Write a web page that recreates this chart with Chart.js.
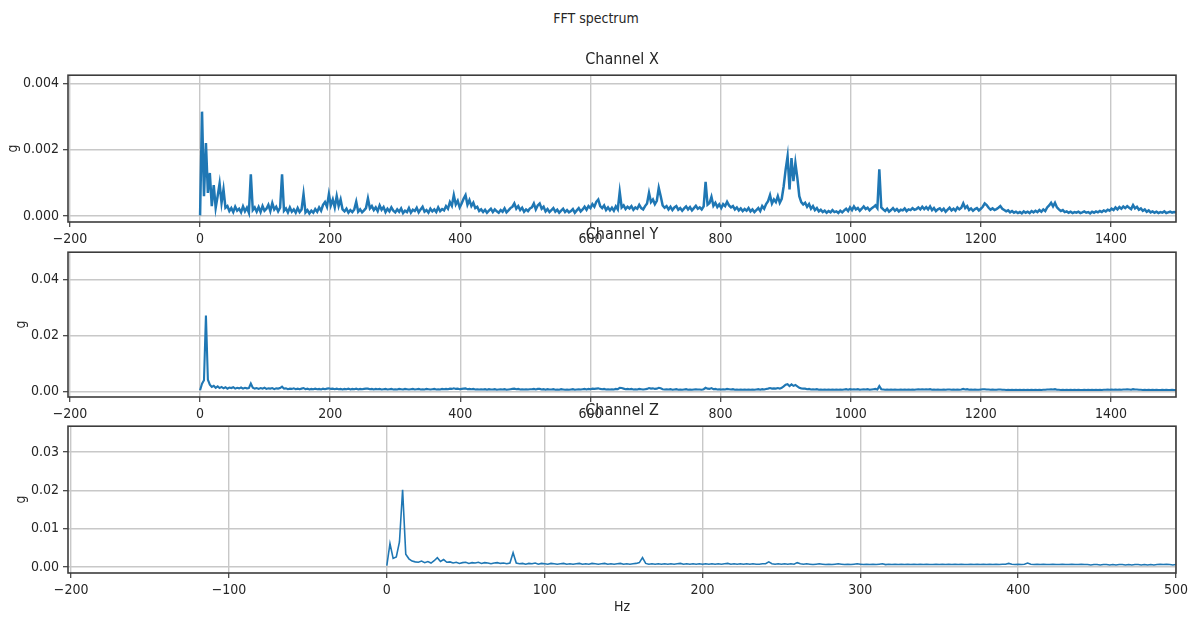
<!DOCTYPE html>
<html>
<head>
<meta charset="utf-8">
<script src="https://cdn.jsdelivr.net/npm/chart.js@4.4.1/dist/chart.umd.min.js"></script>
<style>
  html, body { margin: 0; padding: 0; background: #fff; }
  #wrap { position: relative; width: 1192px; height: 619px; overflow: hidden; }
  #wrap canvas { position: absolute; left: 0; }
  #suptitle {
    position: absolute; left: 0; top: 9px; width: 1192px; text-align: center;
    font: 14px/18px "DejaVu Sans Condensed", "DejaVu Sans", sans-serif; color: #262626;
  }
</style>
</head>
<body>
<div id="wrap">
  <div id="suptitle">FFT spectrum</div>
  <canvas id="chanX" width="1192" height="250" style="top:0"></canvas>
  <canvas id="chanY" width="1192" height="220" style="top:200px"></canvas>
  <canvas id="chanZ" width="1192" height="239" style="top:380px"></canvas>
</div>
<script>
// FFT bin width in Hz
const binXY = 3;
const binZ = 2;

// tick values
const hzTicksXY = [-200, 0, 200, 400, 600, 800, 1000, 1200, 1400];
const hzTicksZ = [-200, -100, 0, 100, 200, 300, 400, 500];
const gTicksX = [0, 0.002, 0.004];
const gTicksY = [0, 0.02, 0.04];
const gTicksZ = [0, 0.01, 0.02, 0.03];

// amplitude (g) per bin, channel X, 0..1500 Hz
const ampX = [
  0.00002, 0.00315, 0.0006, 0.0022, 0.0007, 0.0013, 0.0003, 0.00093, 0.00025, 0.0006,
  0.00098, 0.0004, 0.0008, 0.00025, 0.0003, 0.00015, 0.00024, 0.00012, 0.00028, 0.00016,
  0.00022, 0.00011, 0.00029, 0.00014, 0.00025, 0.0001, 0.00126, 0.00018, 0.00026, 0.00013,
  0.00027, 0.00012, 0.0003, 0.00016, 0.00022, 0.00034, 0.00015, 0.00039, 0.0002, 0.00028,
  0.00014, 0.00025, 0.00126, 0.00016, 0.00023, 0.00011, 0.00026, 0.00013, 0.0002, 0.0001,
  0.00024, 0.00012, 0.0002, 0.00066, 0.00011, 0.00018, 0.00008, 0.00016, 0.0001, 0.00021,
  0.00013, 0.00026, 0.00016, 0.00034, 0.00042, 0.00028, 0.00066, 0.00032, 0.0005, 0.00026,
  0.0006, 0.0003, 0.0005, 0.0002, 0.00014, 0.00022, 0.0001, 0.00018, 0.00012, 0.0002,
  0.00043, 0.00013, 0.0002, 0.00011, 0.00017, 0.00024, 0.00053, 0.00023, 0.0003, 0.00018,
  0.00026, 0.00015, 0.00032, 0.00019, 0.00027, 0.00012, 0.00022, 0.00014, 0.00026, 0.00016,
  0.00011, 0.0002, 0.00013, 0.00023, 0.00009, 0.00016, 0.00012, 0.00024, 0.0001, 0.00019,
  0.00015, 0.00025, 0.00011, 0.0002, 0.00028, 0.00013, 0.00018, 0.0001, 0.00022, 0.00014,
  0.0002, 0.00012, 0.00026, 0.00015, 0.00021, 0.00017, 0.0003, 0.00022, 0.00042, 0.00031,
  0.00063, 0.00035, 0.00046, 0.00026, 0.00038, 0.00052, 0.00063, 0.00034, 0.00048, 0.0003,
  0.0004, 0.00024, 0.00028, 0.00015, 0.0002, 0.00012, 0.00019, 0.0001, 0.00016, 0.00022,
  0.00012, 0.0002, 0.00014, 0.0001, 0.00018, 0.00013, 0.00023, 0.00011, 0.00017, 0.00024,
  0.00028, 0.00038, 0.00022, 0.0003, 0.00018, 0.00025, 0.00013, 0.0002, 0.00015, 0.00023,
  0.00026, 0.00038, 0.0002, 0.00032, 0.00038, 0.00022, 0.00028, 0.00014, 0.00021, 0.00012,
  0.00018, 0.00024, 0.00013, 0.00019, 0.0001, 0.00016, 0.00022, 0.00012, 0.00018, 0.00011,
  0.00015, 0.00021, 0.0001, 0.00017, 0.00024, 0.00014, 0.0002, 0.00028, 0.00019, 0.0003,
  0.00024, 0.00036, 0.00028, 0.00043, 0.0005, 0.0003, 0.00024, 0.00032, 0.00018, 0.00026,
  0.00017, 0.00025, 0.00016, 0.00029, 0.0002, 0.00073, 0.00026, 0.00032, 0.00021, 0.00028,
  0.00023, 0.0003, 0.00019, 0.00026, 0.00022, 0.00034, 0.00024, 0.0002, 0.0003, 0.00038,
  0.0007, 0.00042, 0.0005, 0.00036, 0.00046, 0.00085, 0.0006, 0.00032, 0.00025, 0.0003,
  0.0002, 0.00028, 0.00018, 0.00026, 0.0003, 0.00019, 0.00024, 0.00016, 0.00023, 0.00029,
  0.0002, 0.00027, 0.00017, 0.00024, 0.00031, 0.00022, 0.00026, 0.0002, 0.00029, 0.00103,
  0.00034, 0.00039, 0.00058, 0.00031, 0.0004, 0.00027, 0.00035, 0.00024, 0.00036, 0.0003,
  0.00043, 0.00032, 0.00026, 0.0003, 0.0002, 0.00026, 0.00017, 0.00023, 0.00015, 0.00021,
  0.00016, 0.00024, 0.00014, 0.0002, 0.00012, 0.00018, 0.00024, 0.00015, 0.0003, 0.00022,
  0.00036, 0.00045, 0.00063, 0.00038, 0.0005, 0.00042, 0.0006, 0.0004, 0.00052, 0.0009,
  0.0014, 0.0018, 0.0008, 0.00175, 0.00105, 0.0016, 0.00115, 0.0006, 0.00042, 0.00035,
  0.0004, 0.00028, 0.00036, 0.00022, 0.0003, 0.00018, 0.00024, 0.00014, 0.00019, 0.00012,
  0.00016, 0.0001, 0.00015, 0.00011, 0.00018, 0.00012, 0.00014, 0.00009, 0.00016, 0.00011,
  0.00017, 0.00022, 0.00015, 0.00026, 0.00018, 0.00029, 0.0002, 0.00024, 0.00016, 0.00022,
  0.00029, 0.00021, 0.00025, 0.00017, 0.00023, 0.00027, 0.00032, 0.00024, 0.00141, 0.00026,
  0.0002, 0.00015, 0.00022, 0.00013, 0.00018, 0.00024, 0.00016, 0.00021, 0.00014, 0.00019,
  0.00017, 0.00023, 0.00015, 0.0002, 0.00018, 0.00024, 0.00019, 0.00021, 0.00026, 0.0002,
  0.00028, 0.00021, 0.00027, 0.0002, 0.00029, 0.00018, 0.00024, 0.00015, 0.0002, 0.00023,
  0.00016, 0.00022, 0.00013, 0.00019, 0.00025, 0.00017, 0.00022, 0.00016, 0.00026, 0.0002,
  0.00025, 0.00038, 0.00024, 0.0003, 0.00018, 0.00023, 0.00016, 0.00021, 0.00024, 0.00017,
  0.00022, 0.00028, 0.00038, 0.00033, 0.00025, 0.00019, 0.00023, 0.00018, 0.00021, 0.00025,
  0.0003, 0.00022, 0.00018, 0.00014, 0.00017, 0.00011, 0.00015, 0.0001, 0.00013, 0.00009,
  0.00012, 0.00008, 0.00014, 0.0001, 0.00013, 0.00009, 0.00015, 0.00011, 0.00016, 0.00012,
  0.00018, 0.00013, 0.0002, 0.00015, 0.00026, 0.00032, 0.0004, 0.00029, 0.0004, 0.00026,
  0.0002, 0.00015, 0.00018, 0.00012, 0.00014, 0.0001, 0.00013, 0.00009, 0.00012, 0.0001,
  0.00013, 0.00009, 0.00011, 0.00014, 0.0001, 0.00012, 0.00008, 0.00013, 0.0001, 0.00014,
  0.00011, 0.00015, 0.00012, 0.00017, 0.00014, 0.00019, 0.00016, 0.00022, 0.00018, 0.00026,
  0.0002, 0.00027, 0.00022, 0.00029, 0.00024, 0.0003, 0.00025, 0.00021, 0.00033, 0.00023,
  0.00028, 0.00019, 0.00023, 0.00016, 0.0002, 0.00013, 0.00017, 0.00011, 0.00014, 0.0001,
  0.00013, 0.00009, 0.00012, 0.0001, 0.00014, 0.00009, 0.00011, 0.00013, 0.0001, 0.00012,
  0.00011
];

// amplitude (g) per bin, channel Y, 0..1500 Hz
const ampY = [
  0.0004, 0.0028, 0.004, 0.0272, 0.0042, 0.0024, 0.0016, 0.002, 0.0013, 0.0018,
  0.0012, 0.0016, 0.0011, 0.0015, 0.001, 0.0014, 0.0012, 0.0015, 0.001, 0.0013,
  0.0011, 0.0014, 0.001, 0.0013, 0.0011, 0.0012, 0.0028, 0.0013, 0.001, 0.0012,
  0.0009, 0.0012, 0.001, 0.0013, 0.0009, 0.0011, 0.001, 0.0012, 0.0008, 0.0011,
  0.001, 0.0012, 0.0017, 0.001, 0.0011, 0.0008, 0.001, 0.0009, 0.0011, 0.0008,
  0.001, 0.0008, 0.001, 0.0012, 0.0008, 0.001, 0.0007, 0.0009, 0.0008, 0.001,
  0.0008, 0.0009, 0.0007, 0.001, 0.0008, 0.001, 0.0011, 0.0009, 0.001, 0.0008,
  0.001, 0.0008, 0.0009, 0.0007, 0.0009, 0.0008, 0.001, 0.0007, 0.0009, 0.0008,
  0.001, 0.0007, 0.0009, 0.0008, 0.0009, 0.001, 0.001, 0.0008, 0.0009, 0.0007,
  0.0009, 0.0008, 0.0009, 0.0007, 0.0008, 0.0009, 0.0007, 0.0008, 0.0009, 0.0007,
  0.0008, 0.0007, 0.0009, 0.0008, 0.0007, 0.0009, 0.0008, 0.0007, 0.0008, 0.0009,
  0.0007, 0.0008, 0.0009, 0.0007, 0.0008, 0.0007, 0.0009, 0.0008, 0.0007, 0.0008,
  0.0009, 0.0007, 0.0008, 0.0007, 0.0009, 0.0008, 0.0009, 0.0008, 0.001, 0.0009,
  0.0011, 0.0009, 0.001, 0.0008, 0.0009, 0.001, 0.0011, 0.0008, 0.0009, 0.0008,
  0.0009, 0.0007, 0.0008, 0.0007, 0.0008, 0.0007, 0.0008, 0.0006, 0.0008, 0.0007,
  0.0007, 0.0008, 0.0006, 0.0007, 0.0008, 0.0007, 0.0008, 0.0006, 0.0007, 0.0008,
  0.0009, 0.001, 0.0008, 0.0009, 0.0007, 0.0008, 0.0007, 0.0008, 0.0007, 0.0008,
  0.0008, 0.0009, 0.0007, 0.0009, 0.0009, 0.0007, 0.0008, 0.0006, 0.0008, 0.0007,
  0.0007, 0.0008, 0.0006, 0.0007, 0.0006, 0.0008, 0.0007, 0.0006, 0.0007, 0.0006,
  0.0007, 0.0008, 0.0006, 0.0007, 0.0008, 0.0007, 0.0008, 0.0009, 0.0007, 0.0009,
  0.0008, 0.001, 0.0009, 0.001, 0.0011, 0.0009, 0.0008, 0.0009, 0.0007, 0.0008,
  0.0007, 0.0008, 0.0007, 0.0009, 0.0008, 0.0013, 0.0012, 0.001, 0.0008, 0.0009,
  0.0008, 0.0009, 0.0007, 0.0008, 0.0007, 0.0009, 0.0008, 0.0007, 0.0008, 0.0009,
  0.0012, 0.001, 0.0011, 0.0009, 0.001, 0.0013, 0.0011, 0.0008, 0.0007, 0.0008,
  0.0007, 0.0008, 0.0006, 0.0007, 0.0008, 0.0006, 0.0007, 0.0006, 0.0007, 0.0008,
  0.0006, 0.0007, 0.0006, 0.0007, 0.0008, 0.0007, 0.0007, 0.0006, 0.0008, 0.0013,
  0.001, 0.0009, 0.0012, 0.0008, 0.0009, 0.0007, 0.0008, 0.0007, 0.0008, 0.0007,
  0.0009, 0.0008, 0.0007, 0.0008, 0.0006, 0.0007, 0.0006, 0.0007, 0.0006, 0.0007,
  0.0006, 0.0007, 0.0006, 0.0007, 0.0006, 0.0007, 0.0008, 0.0006, 0.0008, 0.0007,
  0.0009, 0.001, 0.0012, 0.001, 0.0011, 0.001, 0.0012, 0.001, 0.0013, 0.0018,
  0.0024, 0.0026, 0.0019, 0.0025, 0.002, 0.0023, 0.0018, 0.0013, 0.0011, 0.001,
  0.001, 0.0008, 0.0009, 0.0007, 0.0008, 0.0007, 0.0008, 0.0006, 0.0007, 0.0006,
  0.0007, 0.0006, 0.0007, 0.0006, 0.0007, 0.0006, 0.0007, 0.0006, 0.0007, 0.0006,
  0.0007, 0.0008, 0.0006, 0.0008, 0.0007, 0.0008, 0.0007, 0.0008, 0.0006, 0.0007,
  0.0008, 0.0007, 0.0008, 0.0006, 0.0007, 0.0008, 0.0009, 0.0007, 0.0019, 0.0008,
  0.0007, 0.0006, 0.0007, 0.0006, 0.0007, 0.0006, 0.0007, 0.0006, 0.0006, 0.0007,
  0.0006, 0.0007, 0.0006, 0.0007, 0.0006, 0.0007, 0.0006, 0.0007, 0.0008, 0.0007,
  0.0008, 0.0007, 0.0008, 0.0007, 0.0008, 0.0006, 0.0007, 0.0006, 0.0007, 0.0006,
  0.0006, 0.0007, 0.0006, 0.0007, 0.0007, 0.0006, 0.0007, 0.0006, 0.0007, 0.0006,
  0.0007, 0.0009, 0.0007, 0.0008, 0.0006, 0.0007, 0.0006, 0.0007, 0.0006, 0.0006,
  0.0007, 0.0008, 0.0008, 0.0007, 0.0007, 0.0006, 0.0007, 0.0006, 0.0006, 0.0007,
  0.0007, 0.0006, 0.0006, 0.0005, 0.0006, 0.0005, 0.0006, 0.0005, 0.0006, 0.0005,
  0.0006, 0.0005, 0.0006, 0.0005, 0.0006, 0.0005, 0.0006, 0.0005, 0.0006, 0.0005,
  0.0006, 0.0005, 0.0006, 0.0006, 0.0007, 0.0007, 0.0008, 0.0007, 0.0008, 0.0006,
  0.0006, 0.0005, 0.0006, 0.0005, 0.0006, 0.0005, 0.0006, 0.0005, 0.0006, 0.0005,
  0.0006, 0.0005, 0.0005, 0.0006, 0.0005, 0.0006, 0.0005, 0.0006, 0.0005, 0.0006,
  0.0005, 0.0006, 0.0005, 0.0006, 0.0006, 0.0007, 0.0006, 0.0007, 0.0006, 0.0007,
  0.0006, 0.0007, 0.0006, 0.0007, 0.0007, 0.0008, 0.0007, 0.0006, 0.0008, 0.0007,
  0.0007, 0.0006, 0.0006, 0.0005, 0.0006, 0.0005, 0.0006, 0.0005, 0.0006, 0.0005,
  0.0006, 0.0005, 0.0005, 0.0006, 0.0005, 0.0006, 0.0005, 0.0005, 0.0006, 0.0005,
  0.0005
];

// amplitude (g) per bin, channel Z, 0..500 Hz
const ampZ = [
  0.0003, 0.0061, 0.0022, 0.0026, 0.0065, 0.0201, 0.0033, 0.0021, 0.0015, 0.0013,
  0.0012, 0.0015, 0.0011, 0.0014, 0.001, 0.0016, 0.0024, 0.0014, 0.0019, 0.0012,
  0.0013, 0.001, 0.0012, 0.0009, 0.0011, 0.0012, 0.0009, 0.0011, 0.001, 0.0012,
  0.0009, 0.0011, 0.001, 0.0008, 0.001, 0.0011, 0.0009, 0.001, 0.0008, 0.001,
  0.0037, 0.001, 0.0008, 0.0009, 0.0007, 0.0009, 0.0008, 0.001, 0.0007, 0.0009,
  0.0008, 0.0007, 0.0009, 0.0008, 0.0007, 0.0008, 0.0009, 0.0007, 0.0008, 0.0007,
  0.0008, 0.0009, 0.0007, 0.0008, 0.0007, 0.0009, 0.0008, 0.0007, 0.0008, 0.0009,
  0.0007, 0.0008, 0.0007, 0.0008, 0.0009, 0.0007, 0.0008, 0.0007, 0.0008, 0.0009,
  0.0011, 0.0024, 0.0009, 0.0007, 0.0008, 0.0007, 0.0008, 0.0007, 0.0008, 0.0007,
  0.0008, 0.0007, 0.0008, 0.0009, 0.0007, 0.0008, 0.0007, 0.0008, 0.0007, 0.0008,
  0.0007, 0.0008, 0.0007, 0.0008, 0.0007, 0.0008, 0.0007, 0.0008, 0.0009, 0.0007,
  0.0008, 0.0007, 0.0008, 0.0007, 0.0008, 0.0007, 0.0008, 0.0007, 0.0007, 0.0008,
  0.0008, 0.0013, 0.0008, 0.0007, 0.0008, 0.0007, 0.0008, 0.0007, 0.0008, 0.0007,
  0.0011, 0.0008, 0.0007, 0.0008, 0.0007, 0.0006, 0.0007, 0.0008, 0.0007, 0.0006,
  0.0007, 0.0006, 0.0007, 0.0008, 0.0007, 0.0006, 0.0007, 0.0006, 0.0007, 0.0008,
  0.0007, 0.0006, 0.0007, 0.0006, 0.0007, 0.0006, 0.0007, 0.0008, 0.0006, 0.0007,
  0.0006, 0.0007, 0.0006, 0.0007, 0.0006, 0.0007, 0.0006, 0.0007, 0.0006, 0.0007,
  0.0006, 0.0007, 0.0006, 0.0006, 0.0007, 0.0006, 0.0007, 0.0006, 0.0007, 0.0006,
  0.0007, 0.0006, 0.0007, 0.0006, 0.0006, 0.0007, 0.0006, 0.0007, 0.0006, 0.0007,
  0.0006, 0.0007, 0.0006, 0.0007, 0.0006, 0.0007, 0.0007, 0.0009, 0.0007, 0.0006,
  0.0007, 0.0006, 0.0007, 0.001, 0.0007, 0.0006, 0.0007, 0.0006, 0.0007, 0.0006,
  0.0006, 0.0007, 0.0006, 0.0006, 0.0007, 0.0006, 0.0006, 0.0007, 0.0006, 0.0006,
  0.0007, 0.0006, 0.0006, 0.0005, 0.0006, 0.0006, 0.0005, 0.0006, 0.0006, 0.0005,
  0.0006, 0.0005, 0.0006, 0.0006, 0.0005, 0.0006, 0.0005, 0.0006, 0.0006, 0.0005,
  0.0006, 0.0005, 0.0006, 0.0005, 0.0006, 0.0007, 0.0006, 0.0007, 0.0006, 0.0005,
  0.0006
];

const ink = "#262626";
const family = '"DejaVu Sans Condensed", "DejaVu Sans", sans-serif';
const gridCol = "#c8c8c8";

// matplotlib style minus sign
const fmtHz = v => String(v).replace("-", "\u2212");

// draws the four spines round the plot area
const frame = {
  id: "frame",
  afterDraw(chart) {
    const { ctx, chartArea: a } = chart;
    ctx.save();
    ctx.strokeStyle = "#3c3c3c";
    ctx.lineWidth = 1.6;
    ctx.strokeRect(a.left, a.top, a.right - a.left, a.bottom - a.top);
    ctx.restore();
  }
};

function spectrum(amp, bin) {
  return amp.map((a, i) => ({ x: i * bin, y: a }));
}

function makeChart(id, o) {
  const ctx = document.getElementById(id).getContext("2d");
  return new Chart(ctx, {
    type: "line",
    data: {
      datasets: [{
        data: spectrum(o.amp, o.bin),
        borderColor: "#1f77b4",
        borderWidth: o.lw,
        pointRadius: 0,
        tension: 0,
        fill: false
      }]
    },
    options: {
      responsive: false,
      animation: false,
      events: [],
      layout: { padding: { left: 0, right: 16, top: 0, bottom: 0 } },
      plugins: {
        legend: { display: false },
        tooltip: { enabled: false },
        title: {
          display: true,
          text: o.title,
          fullSize: false,
          color: ink,
          font: { family, size: 16, weight: "normal", lineHeight: 1.2 },
          padding: o.titlePad
        }
      },
      scales: {
        x: {
          type: "linear",
          min: o.xMin,
          max: o.xMax,
          afterBuildTicks: s => { s.ticks = o.xTicks.map(v => ({ value: v })); },
          afterFit: s => { s.height = o.xAxisH; },
          border: { display: false },
          grid: { color: gridCol, lineWidth: 1.4, tickColor: "#3c3c3c", tickLength: 5, tickWidth: 1.2 },
          ticks: {
            maxRotation: 0, autoSkip: false, padding: 4,
            color: ink, font: { family, size: 14, lineHeight: 1.2 },
            callback: v => fmtHz(v)
          },
          title: {
            display: !!o.xTitle, text: o.xTitle || "", color: ink,
            font: { family, size: 14, lineHeight: 1.2 }, padding: { top: 0, bottom: 3 }
          }
        },
        y: {
          min: o.yMin,
          max: o.yMax,
          afterBuildTicks: s => { s.ticks = o.yTicks.map(v => ({ value: v })); },
          afterFit: s => { s.width = 68; },
          border: { display: false },
          grid: { color: gridCol, lineWidth: 1.4, tickColor: "#3c3c3c", tickLength: 5, tickWidth: 1.2 },
          ticks: {
            autoSkip: false, padding: 4,
            color: ink, font: { family, size: 14, lineHeight: 1.2 },
            callback: v => v.toFixed(o.yDec)
          },
          title: {
            display: true, text: "g", color: ink,
            font: { family, size: 14, lineHeight: 1.2 }, padding: { top: o.gPad, bottom: 0 }
          }
        }
      }
    },
    plugins: [frame]
  });
}

makeChart("chanX", {
  amp: ampX, bin: binXY, lw: 2.5, title: "Channel X",
  titlePad: { top: 50, bottom: 6 },
  xMin: -203, xMax: 1500, xTicks: hzTicksXY, xAxisH: 28,
  yMin: -0.00018, yMax: 0.00425, yTicks: gTicksX, yDec: 3, gPad: 5
});

makeChart("chanY", {
  amp: ampY, bin: binXY, lw: 2.1, title: "Channel Y",
  titlePad: { top: 25, bottom: 8 },
  xMin: -203, xMax: 1500, xTicks: hzTicksXY, xAxisH: 23,
  yMin: -0.002, yMax: 0.0499, yTicks: gTicksY, yDec: 2, gPad: 13
});

makeChart("chanZ", {
  amp: ampZ, bin: binZ, lw: 1.6, title: "Channel Z",
  titlePad: { top: 21, bottom: 6 },
  xMin: -202, xMax: 500, xTicks: hzTicksZ, xAxisH: 46, xTitle: "Hz",
  yMin: -0.0016, yMax: 0.0367, yTicks: gTicksZ, yDec: 2, gPad: 13
});
</script>
</body>
</html>
